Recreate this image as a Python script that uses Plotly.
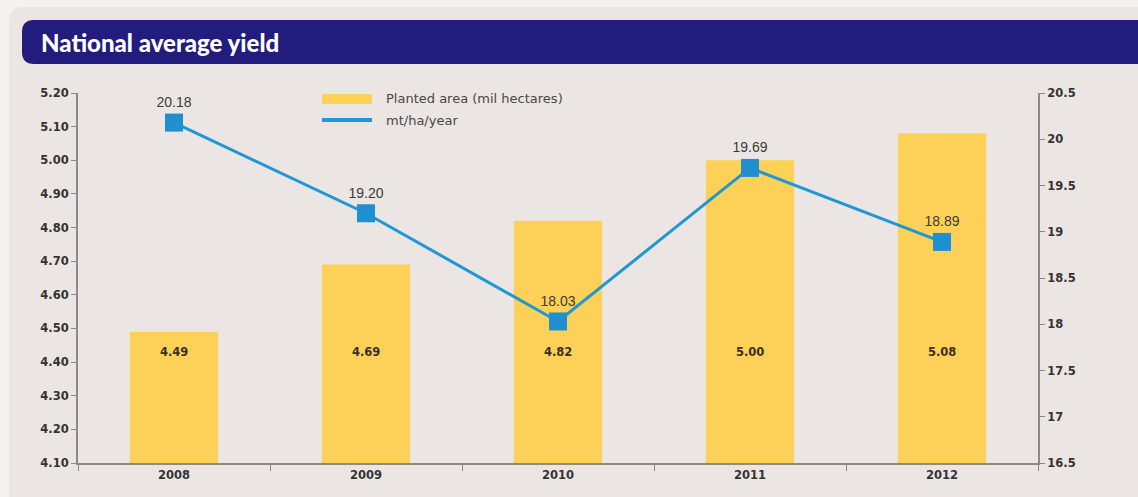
import plotly.graph_objects as go

# Data
years = ["2008", "2009", "2010", "2011", "2012"]
planted_area = [4.49, 4.69, 4.82, 5.00, 5.08]          # mil hectares
yield_mt = [20.18, 19.20, 18.03, 19.69, 18.89]          # mt/ha/year
left_ticks = [4.10, 4.20, 4.30, 4.40, 4.50, 4.60, 4.70, 4.80, 4.90, 5.00, 5.10, 5.20]
right_ticks = [16.5, 17, 17.5, 18, 18.5, 19, 19.5, 20, 20.5]

W, H = 1138, 497
L, R, T, B = 78, 100, 93, 34
PW, PH = W - L - R, H - T - B

BAR = "#fdd158"
LINE = "#1e97d4"
MARK = "#1f8fd0"
AXIS = "#8d8989"
PANEL = "#ebe6e3"
NAVY = "#211c7e"
TICKFONT = dict(family="DejaVu Sans", size=11.5, color="#333333", weight="bold")


def px(xp):
    return (xp - L) / PW


def py(yp):
    return (H - B - yp) / PH


fig = go.Figure()

fig.add_trace(go.Bar(
    x=years, y=planted_area, name="Planted area (mil hectares)",
    marker=dict(color=BAR, line=dict(width=0)), width=0.46,
    yaxis="y", hoverinfo="x+y",
))

fig.add_trace(go.Scatter(
    x=years, y=yield_mt, name="mt/ha/year", yaxis="y2",
    mode="lines+markers+text",
    line=dict(color=LINE, width=3),
    marker=dict(symbol="square", size=18, color=MARK),
    text=[f"{v:.2f}" for v in yield_mt], textposition="top center",
    textfont=dict(family="Liberation Sans", size=14, color="#3b3b3b"),
    cliponaxis=False,
))

annotations = []
# Bar value labels sit at a common height inside each bar
for i, v in enumerate(planted_area):
    annotations.append(dict(
        x=i, y=4.43, xref="x", yref="y", text=f"{v:.2f}",
        showarrow=False,
        font=dict(family="DejaVu Sans", size=11.5, color="#3a3020", weight="bold"),
    ))

# Title banner text
annotations.append(dict(
    x=px(39), y=py(42), xref="paper", yref="paper", xanchor="left", yanchor="middle",
    text="National average yield", showarrow=False,
    font=dict(family="Lato", size=24, color="white", weight=900),
))

# Legend texts
for label, ypix in (("Planted area (mil hectares)", 99), ("mt/ha/year", 120)):
    annotations.append(dict(
        x=px(384), y=py(ypix), xref="paper", yref="paper", xanchor="left", yanchor="middle",
        text=label, showarrow=False,
        font=dict(family="DejaVu Sans", size=13, color="#4a4646"),
    ))


def rounded_rect(x0, y0, x1, y1, r):
    # pixel coordinates -> paper path with rounded corners
    rx, ry = r / PW, r / PH
    a0, a1 = px(x0), px(x1)
    b0, b1 = py(y1), py(y0)  # bottom, top in paper units
    return (f"M{a0 + rx},{b1} L{a1 - rx},{b1} Q{a1},{b1} {a1},{b1 - ry} "
            f"L{a1},{b0 + ry} Q{a1},{b0} {a1 - rx},{b0} L{a0 + rx},{b0} "
            f"Q{a0},{b0} {a0},{b0 + ry} L{a0},{b1 - ry} Q{a0},{b1} {a0 + rx},{b1} Z")


shapes = [
    # panel
    dict(type="path", xref="paper", yref="paper", layer="below",
         path=rounded_rect(9, 7, 1160, 520, 14), fillcolor=PANEL, line=dict(width=0)),
    # title banner
    dict(type="path", xref="paper", yref="paper", layer="below",
         path=rounded_rect(22, 20, 1160, 64, 12), fillcolor=NAVY, line=dict(width=0)),
    # legend swatches
    dict(type="rect", xref="paper", yref="paper", x0=px(322), x1=px(372),
         y0=py(104), y1=py(94), fillcolor=BAR, line=dict(width=0)),
    dict(type="line", xref="paper", yref="paper", x0=px(322), x1=px(372),
         y0=py(120), y1=py(120), line=dict(color=LINE, width=4)),
]

fig.update_layout(
    width=W, height=H,
    margin=dict(l=L, r=R, t=T, b=B),
    paper_bgcolor="#f6f2f1",
    plot_bgcolor="rgba(0,0,0,0)",
    showlegend=False,
    font=dict(family="Open Sans", color="#333333"),
    xaxis=dict(
        type="category", range=[-0.5, 4.5],
        showline=True, linecolor=AXIS, linewidth=2,
        ticks="outside", tickson="boundaries", ticklen=6, tickcolor=AXIS,
        tickfont=TICKFONT,
        showgrid=False, zeroline=False,
    ),
    yaxis=dict(
        range=[4.10, 5.20], tickvals=left_ticks,
        ticktext=[f"{v:.2f}" for v in left_ticks],
        showline=True, linecolor=AXIS, linewidth=2,
        ticks="outside", ticklen=5, tickcolor=AXIS,
        tickfont=TICKFONT,
        showgrid=False, zeroline=False,
    ),
    yaxis2=dict(
        range=[16.5, 20.5], tickvals=right_ticks,
        ticktext=[f"{v:g}" for v in right_ticks],
        overlaying="y", side="right",
        showline=True, linecolor=AXIS, linewidth=2,
        ticks="outside", ticklen=5, tickcolor=AXIS,
        tickfont=TICKFONT,
        showgrid=False, zeroline=False,
    ),
    annotations=annotations,
    shapes=shapes,
)

fig.write_html("out.html")
